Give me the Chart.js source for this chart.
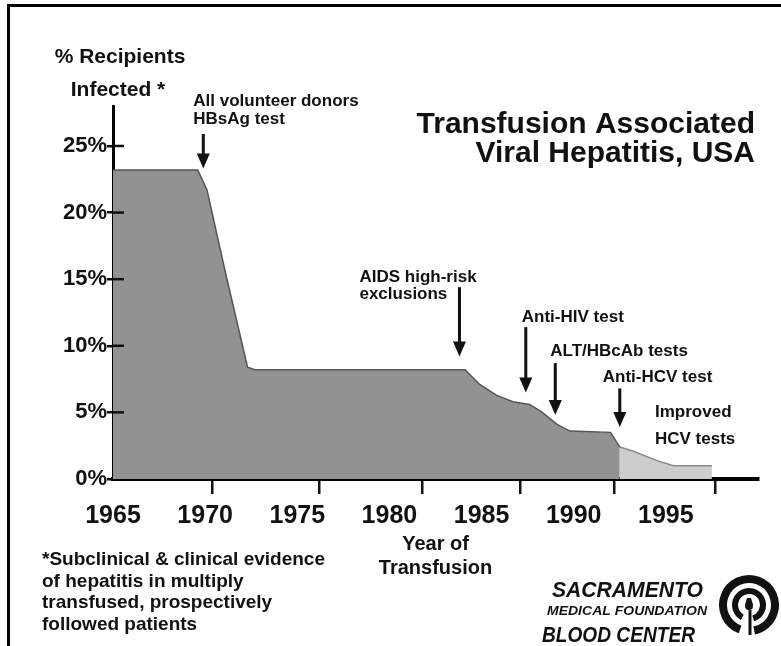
<!DOCTYPE html>
<html>
<head>
<meta charset="utf-8">
<script src="https://cdn.jsdelivr.net/npm/chart.js@4.4.1/dist/chart.umd.min.js"></script>
<style>
    html, body { margin: 0; padding: 0; background: #fff; }
    #wrap { position: relative; width: 781px; height: 646px; overflow: hidden; }
    #frame { position: absolute; left: 7px; top: 4px; width: 800px; height: 700px; border-left: 3px solid #000; border-top: 3px solid #000; }
    #grafico { position: absolute; left: 0; top: 0; }
</style>
</head>
<body>
<div id="wrap">
    <div id="frame"></div>
    <canvas id="grafico" width="781" height="646"></canvas>
</div>
<script>
// blood supply era (dark) and improved HCV tests era (light)
var anos = [1965, 1969.6, 1970.1, 1971.1, 1972.3, 1972.7, 1984.1, 1984.9, 1985.8, 1986.7, 1987.6, 1988.2, 1989.1, 1989.8, 1992.0, 1992.5];
var infectados = [23.2, 23.2, 21.7, 15.5, 8.4, 8.2, 8.2, 7.1, 6.3, 5.8, 5.6, 5.1, 4.1, 3.6, 3.5, 2.4];
var anosHcv = [1992.5, 1993.2, 1994.5, 1995.4, 1997.5];
var infectadosHcv = [2.4, 2.1, 1.4, 1.0, 1.0];

var rotulosAno = [1965, 1970, 1975, 1980, 1985, 1990, 1995];
var marcasAno = [1970.4, 1976.2, 1981.8, 1987.1, 1992.2, 1997.7];
var rotulosPct = [0, 5, 10, 15, 20, 25];

var setas = [
    { ano: 1969.9, de: 25.9, ate: 23.3, texto: ['All volunteer donors', 'HBsAg test'], dx: -10, dy: -28, passo: 18 },
    { ano: 1983.8, de: 14.4, ate: 9.2, texto: ['AIDS high-risk', 'exclusions'], dx: -100, dy: -5, passo: 17 },
    { ano: 1987.4, de: 11.4, ate: 6.5, texto: ['Anti-HIV test'], dx: -4, dy: -5, passo: 0 },
    { ano: 1989.0, de: 8.7, ate: 4.8, texto: ['ALT/HBcAb tests'], dx: -5, dy: -7, passo: 0 },
    { ano: 1992.5, de: 6.8, ate: 3.9, texto: ['Anti-HCV test'], dx: -17, dy: -6, passo: 0 }
];

var fonte = '"Liberation Sans", Arial, sans-serif';

function textoAjustado(ctx, texto, x, y, largura) {
    var w = ctx.measureText(texto).width;
    ctx.save();
    ctx.translate(x, y);
    ctx.scale(largura / w, 1);
    ctx.fillText(texto, 0, 0);
    ctx.restore();
}

function logo(ctx, cx, cy) {
    ctx.save();
    ctx.strokeStyle = '#111';
    ctx.fillStyle = '#111';
    ctx.lineWidth = 8;
    ctx.beginPath();
    ctx.arc(cx, cy, 26, Math.PI / 2 + 0.35, Math.PI / 2 - 0.2 + Math.PI * 2);
    ctx.stroke();
    ctx.lineWidth = 6;
    ctx.beginPath();
    ctx.arc(cx, cy, 14, Math.PI / 2 + 0.5, Math.PI / 2 - 0.3 + Math.PI * 2);
    ctx.stroke();
    ctx.beginPath();
    ctx.arc(cx, cy + 1, 4, 0, Math.PI * 2);
    ctx.fill();
    ctx.beginPath();
    ctx.moveTo(cx - 2, cy - 7);
    ctx.lineTo(cx + 2, cy - 7);
    ctx.lineTo(cx + 4, cy);
    ctx.lineTo(cx - 4, cy);
    ctx.fill();
    ctx.lineWidth = 3;
    ctx.beginPath();
    ctx.moveTo(cx + 1, cy + 5);
    ctx.lineTo(cx + 1, cy + 30);
    ctx.stroke();
    ctx.restore();
}

var anotacoes = {
    id: 'anotacoes',
    afterDatasetsDraw(chart) {
        var ctx = chart.ctx, area = chart.chartArea, y = chart.scales.y;
        ctx.save();
        ctx.strokeStyle = '#111';
        ctx.lineWidth = 2.5;
        rotulosPct.forEach(function (v) {
            if (v === 0) return;
            var py = y.getPixelForValue(v);
            ctx.beginPath();
            ctx.moveTo(area.left, py);
            ctx.lineTo(area.left + 11, py);
            ctx.stroke();
        });
        ctx.restore();
    },
    afterDraw(chart) {
        var ctx = chart.ctx, x = chart.scales.x, y = chart.scales.y;
        ctx.save();
        ctx.fillStyle = '#111';
        ctx.strokeStyle = '#111';
        ctx.textBaseline = 'alphabetic';

        ctx.font = 'bold 30px ' + fonte;
        ctx.textAlign = 'right';
        ctx.fillText('Transfusion Associated', 755, 133);
        ctx.fillText('Viral Hepatitis, USA', 755, 162);

        ctx.font = 'bold 21px ' + fonte;
        ctx.textAlign = 'center';
        ctx.fillText('% Recipients', 120, 63);
        ctx.fillText('Infected *', 118, 96);

        setas.forEach(function (s) {
            var px = x.getPixelForValue(s.ano);
            var topo = y.getPixelForValue(s.de);
            var ponta = y.getPixelForValue(s.ate);
            ctx.lineWidth = 3;
            ctx.beginPath();
            ctx.moveTo(px, topo);
            ctx.lineTo(px, ponta - 12);
            ctx.stroke();
            ctx.beginPath();
            ctx.moveTo(px - 6.5, ponta - 15);
            ctx.lineTo(px + 6.5, ponta - 15);
            ctx.lineTo(px, ponta);
            ctx.closePath();
            ctx.fill();
            ctx.font = 'bold 17px ' + fonte;
            ctx.textAlign = 'left';
            s.texto.forEach(function (linha, i) {
                ctx.fillText(linha, px + s.dx, topo + s.dy + i * s.passo);
            });
        });

        ctx.font = 'bold 17px ' + fonte;
        ctx.textAlign = 'left';
        ctx.fillText('Improved', 655, 417);
        ctx.fillText('HCV tests', 655, 444);

        ctx.font = 'bold 19px ' + fonte;
        ['*Subclinical & clinical evidence', 'of hepatitis in multiply', 'transfused, prospectively', 'followed patients']
            .forEach(function (linha, i) {
                ctx.fillText(linha, 42, 565 + i * 21.5);
            });

        ctx.font = 'italic bold 22px ' + fonte;
        textoAjustado(ctx, 'SACRAMENTO', 552, 597, 151);
        textoAjustado(ctx, 'BLOOD CENTER', 542, 642, 153);
        ctx.font = 'italic bold 13px ' + fonte;
        textoAjustado(ctx, 'MEDICAL FOUNDATION', 547, 615, 160);
        logo(ctx, 749, 605);
        ctx.restore();
    }
};

var grafico = new Chart(document.getElementById('grafico').getContext('2d'), {
    type: 'line',
    data: {
        datasets: [{
            label: 'Recipients infected',
            data: anos.map((a, i) => ({ x: a, y: infectados[i] })),
            fill: 'origin',
            backgroundColor: '#929292',
            borderColor: '#555555',
            borderWidth: 1.5,
            pointRadius: 0,
            tension: 0
        }, {
            label: 'Improved HCV tests',
            data: anosHcv.map((a, i) => ({ x: a, y: infectadosHcv[i] })),
            fill: 'origin',
            backgroundColor: '#cdcdcd',
            borderColor: '#8a8a8a',
            borderWidth: 1.5,
            pointRadius: 0,
            tension: 0
        }]
    },
    options: {
        responsive: false,
        animation: false,
        layout: { padding: { left: 0, top: 106, right: 23, bottom: 66 } },
        plugins: {
            legend: { display: false },
            tooltip: { enabled: false }
        },
        scales: {
            x: {
                type: 'linear',
                position: 'bottom',
                min: 1965,
                max: 2000,
                afterBuildTicks: ax => { ax.ticks = marcasAno.map(v => ({ value: v })); },
                afterFit: ax => { ax.height = 15; },
                ticks: { display: false },
                grid: { drawOnChartArea: false, drawTicks: true, tickLength: 15, color: '#111', lineWidth: 2.5 },
                border: { display: true, color: '#000', width: 4 }
            },
            xAnos: {
                type: 'linear',
                position: 'bottom',
                weight: 1,
                min: 1965,
                max: 2000,
                afterBuildTicks: ax => { ax.ticks = rotulosAno.map(v => ({ value: v })); },
                afterFit: ax => { ax.height = 86; },
                ticks: {
                    autoSkip: false,
                    maxRotation: 0,
                    padding: 7,
                    color: '#111',
                    callback: v => String(v),
                    font: { family: fonte, size: 25, weight: 'bold' }
                },
                grid: { display: false, drawTicks: false },
                border: { display: false },
                title: {
                    display: true,
                    text: ['Year of', 'Transfusion'],
                    color: '#111',
                    padding: 0,
                    font: { family: fonte, size: 20, weight: 'bold', lineHeight: 1.2 }
                }
            },
            y: {
                min: 0,
                max: 28,
                afterBuildTicks: ax => { ax.ticks = rotulosPct.map(v => ({ value: v })); },
                afterFit: ax => { ax.width = 113; },
                ticks: {
                    padding: 0,
                    color: '#111',
                    callback: v => v + '%',
                    font: { family: fonte, size: 22, weight: 'bold' }
                },
                grid: { drawOnChartArea: false, tickLength: 6, color: '#111', lineWidth: 2.5 },
                border: { color: '#000', width: 3 }
            }
        }
    },
    plugins: [anotacoes]
});
</script>
</body>
</html>
